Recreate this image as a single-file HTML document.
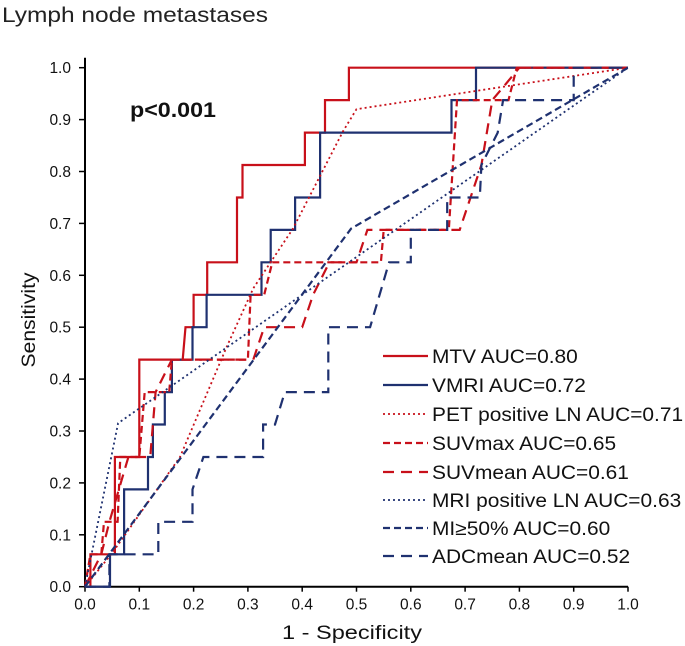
<!DOCTYPE html>
<html><head><meta charset="utf-8"><style>
html,body{margin:0;padding:0;background:#fff;}
svg{display:block;font-family:"Liberation Sans",Arial,sans-serif;}
</style></head><body>
<svg id="chart" width="685" height="646" viewBox="0 0 685 646">
<text x="2" y="22" font-size="21" fill="#222" textLength="266" lengthAdjust="spacingAndGlyphs">Lymph node metastases</text>
<text x="130" y="117" font-size="21" font-weight="bold" fill="#111" textLength="86" lengthAdjust="spacingAndGlyphs">p&lt;0.001</text>
<g id="axes"></g>
<g id="series"></g>
<g id="legend"></g>
<text x="352" y="639" font-size="19" text-anchor="middle" fill="#111" textLength="140" lengthAdjust="spacingAndGlyphs">1 - Specificity</text>
<text transform="translate(35,320) rotate(-90)" font-size="19" text-anchor="middle" fill="#111" textLength="95" lengthAdjust="spacingAndGlyphs">Sensitivity</text>
</svg>
<script>
const xTicks=[0,0.1,0.2,0.3,0.4,0.5,0.6,0.7,0.8,0.9,1.0];
const yTicks=[0,0.1,0.2,0.3,0.4,0.5,0.6,0.7,0.8,0.9,1.0];
const seriesNames=["MTV AUC=0.80","VMRI  AUC=0.72","PET positive LN AUC=0.71","SUVmax AUC=0.65","SUVmean AUC=0.61","MRI positive LN AUC=0.63","MI≥50% AUC=0.60","ADCmean AUC=0.52"];
const mtvFpr=[0,0.01,0.01,0.055,0.055,0.1,0.1,0.18,0.185,0.2,0.2,0.225,0.225,0.28,0.28,0.29,0.29,0.405,0.405,0.442,0.442,0.486,0.486,1];
const mtvTpr=[0,0,0.0625,0.0625,0.25,0.25,0.4375,0.4375,0.5,0.5,0.5625,0.5625,0.625,0.625,0.75,0.75,0.8125,0.8125,0.875,0.875,0.9375,0.9375,1,1];
const vmriFpr=[0,0.046,0.046,0.072,0.072,0.116,0.116,0.125,0.125,0.147,0.147,0.16,0.16,0.198,0.198,0.224,0.224,0.325,0.325,0.342,0.342,0.387,0.387,0.433,0.433,0.675,0.675,0.72,0.72,1];
const vmriTpr=[0,0,0.0625,0.0625,0.1875,0.1875,0.25,0.25,0.3125,0.3125,0.375,0.375,0.4375,0.4375,0.5,0.5,0.5625,0.5625,0.625,0.625,0.6875,0.6875,0.75,0.75,0.875,0.875,0.9375,0.9375,1,1];
const petFpr=[0,0.05,0.175,0.26,0.31,0.383,0.475,0.5,1];
const petTpr=[0,0.065,0.25,0.46,0.575,0.69,0.877,0.92,1];
const suvmaxFpr=[0,0.01,0.03,0.035,0.06,0.065,0.1,0.11,0.155,0.16,0.3,0.305,0.33,0.345,0.545,0.55,0.67,0.685,0.78,0.795,1];
const suvmaxTpr=[0,0.0625,0.0625,0.125,0.125,0.25,0.25,0.375,0.375,0.4375,0.4375,0.5625,0.5625,0.625,0.625,0.6875,0.6875,0.9375,0.9375,1,1];
const suvmeanFpr=[0,0.03,0.045,0.08,0.12,0.13,0.16,0.31,0.33,0.4,0.42,0.45,0.5,0.52,0.69,0.73,0.75,0.8,1];
const suvmeanTpr=[0,0.0625,0.125,0.25,0.25,0.375,0.4375,0.4375,0.5,0.5,0.5625,0.625,0.625,0.6875,0.6875,0.8125,0.9375,1,1];
const mriFpr=[0,0.061,1];
const mriTpr=[0,0.315,1];
const miFpr=[0,0.49,1];
const miTpr=[0,0.69,1];
const adcFpr=[0,0.045,0.045,0.135,0.135,0.198,0.198,0.218,0.328,0.328,0.35,0.368,0.448,0.448,0.525,0.56,0.6,0.6,0.667,0.667,0.727,0.73,0.76,0.77,0.9,0.9,1];
const adcTpr=[0,0,0.0625,0.0625,0.125,0.125,0.1875,0.25,0.25,0.3125,0.3125,0.375,0.375,0.5,0.5,0.625,0.625,0.6875,0.6875,0.75,0.75,0.8125,0.875,0.9375,0.9375,1,1];

const NS="http://www.w3.org/2000/svg";
const X0=85,X1=628,Y0=586.7,Y1=67.7;
function sx(v){return X0+(X1-X0)*v;}
function sy(v){return Y0-(Y0-Y1)*v;}
function mk(tag,attrs,parent){const e=document.createElementNS(NS,tag);for(const k in attrs)e.setAttribute(k,attrs[k]);parent.appendChild(e);return e;}
const axes=document.getElementById('axes');
let a=mk('line',{x1:X0,y1:Y1-10,x2:X0,y2:Y0,stroke:'#000','stroke-width':2},axes);


a=mk('line',{x1:X0,y1:Y0,x2:X1,y2:Y0,stroke:'#000','stroke-width':2},axes);


xTicks.forEach(t=>{
  const l=mk('line',{x1:sx(t),y1:Y0,x2:sx(t),y2:Y0+5,stroke:'#000','stroke-width':1.5},axes);
  
  
  const tx=mk('text',{x:sx(t),y:Y0+23,'font-size':15.5,'text-anchor':'middle',fill:'#111'},axes);
  tx.textContent=t.toFixed(1);
  
  
});
yTicks.forEach(t=>{
  const l=mk('line',{x1:X0-6,y1:sy(t),x2:X0,y2:sy(t),stroke:'#000','stroke-width':1.5},axes);
  
  
  const tx=mk('text',{x:X0-14,y:sy(t)+5.5,'font-size':15.5,'text-anchor':'end',fill:'#111'},axes);
  tx.textContent=t.toFixed(1);
  
  
});
const RED='#C8101A',BLUE='#1F3170';
const styles=[
 {c:RED,d:'',w:2.2,xs:mtvFpr,ys:mtvTpr,n:'mtv-curve'},
 {c:BLUE,d:'',w:2.2,xs:vmriFpr,ys:vmriTpr,n:'vmri-curve'},
 {c:RED,d:'2 3',w:1.8,xs:petFpr,ys:petTpr,n:'pet-positive-ln-curve'},
 {c:RED,d:'7 4',w:2.2,xs:suvmaxFpr,ys:suvmaxTpr,n:'suvmax-curve'},
 {c:RED,d:'11 7',w:2.2,xs:suvmeanFpr,ys:suvmeanTpr,n:'suvmean-curve'},
 {c:BLUE,d:'2 3',w:1.8,xs:mriFpr,ys:mriTpr,n:'mri-positive-ln-curve'},
 {c:BLUE,d:'7 4',w:2.2,xs:miFpr,ys:miTpr,n:'mi50-curve'},
 {c:BLUE,d:'11 7',w:2.2,xs:adcFpr,ys:adcTpr,n:'adcmean-curve'}
];
const sg=document.getElementById('series');
styles.forEach(s=>{
  const pts=s.xs.map((x,i)=>sx(x).toFixed(1)+','+sy(s.ys[i]).toFixed(1)).join(' ');
  const p=mk('polyline',{points:pts,fill:'none',stroke:s.c,'stroke-width':s.w,'stroke-dasharray':s.d},sg);
  
  
});
const lg=document.getElementById('legend');
const rowsY=[356,385,414,443,472,500,528,556];
styles.forEach((s,i)=>{
  const y=rowsY[i];
  const l=mk('line',{x1:383,y1:y,x2:428,y2:y,stroke:s.c,'stroke-width':s.w,'stroke-dasharray':s.d},lg);
  
  
  const t=mk('text',{x:432,y:y+7,'font-size':19,fill:'#111','xml:space':'preserve'},lg);
  t.textContent=seriesNames[i];
  
  
  const w=t.getComputedTextLength();
  t.setAttribute('textLength',(w*1.1).toFixed(1));
  t.setAttribute('lengthAdjust','spacingAndGlyphs');
});
</script>
</body></html>
